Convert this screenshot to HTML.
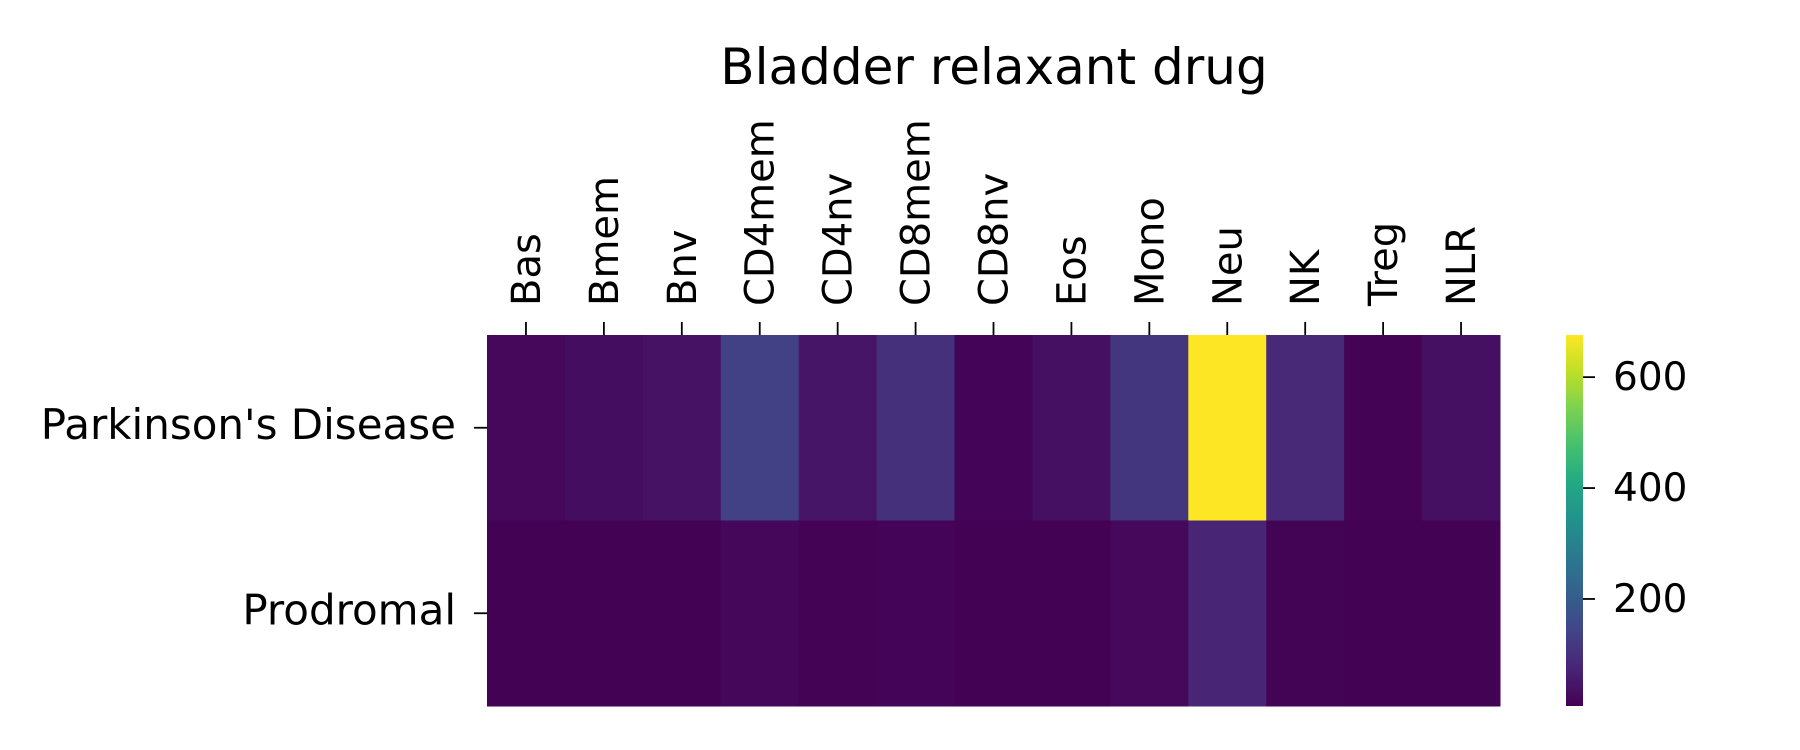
<!DOCTYPE html>
<html><head><meta charset="utf-8"><style>
html,body{margin:0;padding:0;background:#fff}
svg{display:block;font-family:"DejaVu Sans","Liberation Sans",sans-serif}
</style></head><body>
<svg id="chart" width="1800" height="750" viewBox="0 0 1800 750">
<defs><linearGradient id="cbgrad" x1="0" y1="1" x2="0" y2="0"></linearGradient></defs>
<text x="994" y="84" font-size="50" text-anchor="middle">Bladder relaxant drug</text>
<g id="cells"></g>
<g id="xaxis"></g>
<g id="yaxis"></g>
<g id="cbar"></g>
</svg>
<script>
const categories = ["Bas","Bmem","Bnv","CD4mem","CD4nv","CD8mem","CD8nv","Eos","Mono","Neu","NK","Treg","NLR"];
const rowLabels = ["Parkinson's Disease","Prodromal"];
const pdValues = [20,30,40,135,45,100,15,35,110,676,85,10,35];
const prodValues = [8,9,9,18,10,15,8,9,20,75,12,9,8];
const cbTicks = [200,400,600];
const vmin = 7, vmax = 676;

const VIR = ["#440154","#482475","#414487","#355f8d","#2a788e","#21918c","#22a884","#44bf70","#7ad151","#bddf26","#fde725"];
function hex(h){return [1,3,5].map(i=>parseInt(h.substr(i,2),16));}
function viridis(t){t=Math.max(0,Math.min(1,t));const p=t*(VIR.length-1);const i=Math.min(Math.floor(p),VIR.length-2);const f=p-i;const a=hex(VIR[i]),b=hex(VIR[i+1]);return "rgb("+a.map((v,k)=>Math.round(v+(b[k]-v)*f)).join(",")+")";}

const L=487,R=1500,T=335,B=706;
const cw=(R-L)/categories.length, rh=(B-T)/rowLabels.length;
const xPos=i=>L+i*cw, yPos=j=>T+j*rh;
const cbX=1566,cbW=17;
const cbY=v=>B-(v-vmin)/(vmax-vmin)*(B-T);
const NS="http://www.w3.org/2000/svg";
function mk(tag,attrs,parent){const e=document.createElementNS(NS,tag);for(const k in attrs)e.setAttribute(k,attrs[k]);parent.appendChild(e);return e;}

const cells=document.getElementById('cells');
[pdValues,prodValues].forEach((row,j)=>{row.forEach((v,i)=>{
  const r=mk('rect',{x:xPos(i),y:yPos(j),width:cw+0.5,height:rh+0.5,fill:viridis((v-vmin)/(vmax-vmin))},cells);
  
  
});});

const xa=document.getElementById('xaxis');
categories.forEach((c,i)=>{
  const cx=xPos(i)+cw/2;
  const tk=mk('line',{x1:cx,y1:T,x2:cx,y2:T-13,stroke:"#000","stroke-width":1.8},xa);
  
  
  const t=mk('text',{x:0,y:0,"font-size":40,transform:"translate("+(cx+14)+","+(T-29)+") rotate(-90)"},xa);
  t.textContent=c;
  
  
});

const ya=document.getElementById('yaxis');
rowLabels.forEach((c,j)=>{
  const cy=yPos(j)+rh/2;
  const tk=mk('line',{x1:L,y1:cy,x2:L-13,y2:cy,stroke:"#000","stroke-width":1.8},ya);
  
  
  const t=mk('text',{x:L-31,y:cy+11,"font-size":42,"text-anchor":"end"},ya);
  t.textContent=c;
  
  
});

const g=document.getElementById('cbgrad');
for(let k=0;k<=20;k++){mk('stop',{offset:(k/20),"stop-color":viridis(k/20)},g);}
const cb=document.getElementById('cbar');
const cr=mk('rect',{x:cbX,y:T,width:cbW,height:B-T,fill:"url(#cbgrad)"},cb);


cbTicks.forEach(v=>{
  const y=cbY(v);
  const tk=mk('line',{x1:cbX+cbW,y1:y,x2:cbX+cbW+12,y2:y,stroke:"#000","stroke-width":1.8},cb);
  
  
  const t=mk('text',{x:cbX+cbW+30,y:y+13,"font-size":39},cb);
  t.textContent=v;
  
  
});
</script>
</body></html>
